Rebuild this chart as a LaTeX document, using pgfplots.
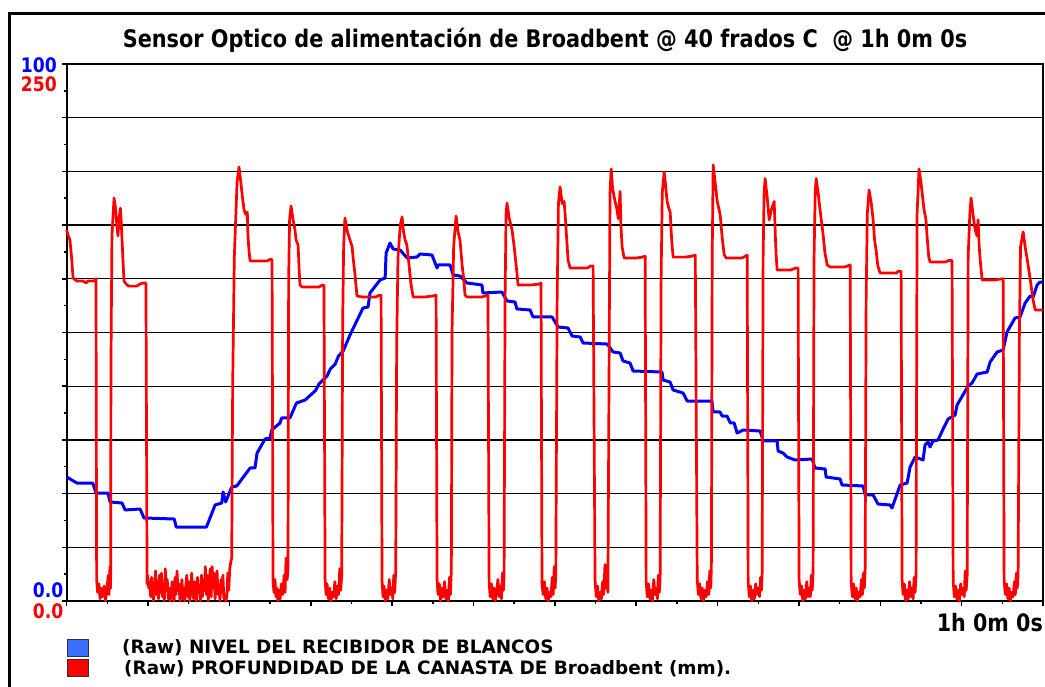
\documentclass[border=0pt]{standalone}
\usepackage{pgfplots}
\pgfplotsset{compat=1.18}
\usepackage{fontspec}
\setmainfont{DejaVu Sans}[FakeStretch=0.86]
\newfontfamily\legfont{DejaVu Sans}
\definecolor{lblue}{HTML}{0000FF}
\definecolor{lred}{HTML}{FF0000}
\definecolor{legblue}{HTML}{3A6EFF}
\pgfplotsset{myaxis/.style={scale only axis, width=976.3pt, height=537pt,
  at={(66.7pt,85pt)}, anchor=south west, xmin=0, xmax=60, clip=false}}
\begin{document}
\begin{tikzpicture}
\useasboundingbox (0,0) rectangle (1045pt,686pt);
% outer frame
\draw[line width=2.5pt,black] (9.5pt,-5pt) -- (9.5pt,672.5pt) -- (1060pt,672.5pt);
% axis with grid and blue series
\begin{axis}[myaxis, ymin=0, ymax=100,
  xtick={0,5,...,60}, ytick={0,10,...,100},
  minor x tick num=1, minor y tick num=1,
  xticklabels={}, yticklabels={},
  tick pos=left, tick align=outside,
  major tick length=5pt, minor tick length=3pt,
  tick style={black, line width=1.5pt},
  ymajorgrids, major grid style={black, line width=1.3pt},
  axis line style={black, line width=2.2pt}]
\addplot[lblue, line width=3pt, line join=round] coordinates {
(0,23.09)(0.20,22.72)(0.63,21.97)(1.60,21.97)(1.80,20.11)(2.54,20.11)(2.66,18.44)
(3.40,18.25)(3.59,16.95)(4.51,17.13)(4.75,15.46)(6.61,15.27)(6.73,13.78)(8.59,13.78)
(9.12,17.88)(9.53,18.25)(9.61,20.30)(9.77,18.44)(10.14,21.23)(10.45,21.42)
(11.27,24.77)(11.57,24.77)(11.70,27.56)(12.19,30.17)(12.50,30.35)(12.60,31.84)
(13.11,33.15)(13.21,34.08)(13.72,34.08)(14.12,36.87)(14.65,37.43)
(15.3,39.2)(15.5,40.4)(16.0,41.9)(16.2,43.2)(16.5,44.1)(16.7,45.6)(17.0,46.6)(17.41,49.53)
(18.21,54.56)(18.52,54.75)(18.64,57.36)(19.26,59.78)(19.57,60.15)(19.63,64.80)
(19.87,66.67)(20.06,65.55)(20.49,65.36)(20.92,63.87)(21.53,64.06)(21.72,64.62)
(22.45,64.43)(22.76,62.01)(22.82,62.57)(23.56,62.57)(23.75,60.71)(24.17,60.52)
(24.60,59.22)(25.52,58.85)(25.58,57.36)(26.75,57.54)(27.06,55.87)(27.55,55.68)
(27.67,54.38)(28.48,54.19)(28.66,52.89)(29.83,52.89)(30.20,51.02)(30.81,50.84)
(31.06,49.35)(31.55,49.16)(31.74,48.04)(33.21,47.86)(33.58,46.37)(34.01,46.18)
(34.19,44.69)(34.62,44.32)(34.81,42.83)(36.59,42.64)(36.65,41.15)(37.08,40.78)
(37.27,39.29)(37.88,38.73)(38.13,37.24)(39.66,37.24)(39.72,35.20)(40.15,35.20)
(40.28,34.45)(40.58,34.45)(40.78,33.15)(41.02,33.15)(41.20,31.28)(41.57,31.84)
(42.62,31.66)(42.80,29.80)(43.66,29.80)(43.72,27.93)(44.02,27.56)(44.27,26.82)
(44.76,26.26)(45.81,26.44)(45.99,24.77)(46.61,24.58)(46.67,23.09)(47.53,22.72)
(47.65,21.60)(48.94,21.42)(49.07,19.74)(49.56,19.74)(49.86,18.06)(50.60,17.88)
(50.72,17.32)(51.22,21.60)(51.65,21.97)(51.83,24.95)(52.14,26.82)(52.63,26.26)
(52.75,29.05)(52.94,29.61)(53.06,28.68)(53.24,29.80)(53.55,29.98)(53.86,32.03)
(54.17,33.89)(54.60,34.64)(54.72,36.50)(55.40,40.04)(55.64,40.60)(55.95,42.27)
(56.57,42.64)(56.75,44.51)(57.18,46.37)(57.55,46.74)(57.79,50.09)(58.28,52.70)
(58.59,52.89)(58.90,55.49)(59.21,56.80)(59.39,56.61)(59.64,58.85)(59.82,59.40)(60,59.40)
};
\end{axis}
% red series
\begin{axis}[myaxis, ymin=0, ymax=250, hide axis]
\addplot[lred, line width=2.7pt, line join=round] coordinates {
(0,172.7)(0.1,170)(0.2,168)(0.3,160)(0.39,150.4)(0.6,149)(1.0,149)(1.2,148)(1.3,149)(1.7,149)(1.8,150)
(1.84,10)(1.9,4)(1.98,8)(2.05,1)(2.12,6)(2.2,2)(2.3,7)(2.38,0)(2.46,4)(2.55,12)(2.6,3)(2.66,16)(2.70,6)
(2.72,110)(2.78,170)(2.91,187.6)(3.0,183)(3.08,175)(3.15,170)(3.22,178)(3.3,182.9)(3.36,175)(3.45,160)
(3.52,149)(3.65,147.6)(3.8,146.6)(4.3,146.6)(4.5,147.6)(4.7,148)(4.87,148)
(4.94,8)(4.98,12)(5.04,6)(5.1,9)(5.16,2)(5.22,11)(5.28,3)(5.34,0)(5.4,7)(5.46,14)(5.52,3)(5.58,9)
(5.64,1)(5.7,12)(5.76,4)(5.82,13)(5.88,2)(5.94,8)(6.0,0)(6.06,15)(6.12,5)(6.18,10)(6.24,1)(6.3,6)
(6.36,0)(6.42,4)(6.48,9)(6.54,2)(6.6,0)(6.66,11)(6.72,3)(6.78,14)(6.84,5)(6.9,8)(6.96,0)(7.02,3)
(7.08,10)(7.14,1)(7.2,6)(7.26,0)(7.32,7)(7.38,12)(7.44,2)(7.5,9)(7.56,0)(7.62,5)(7.68,13)(7.74,4)
(7.8,1)(7.86,9)(7.92,3)(7.98,0)(8.04,11)(8.1,4)(8.16,7)(8.22,0)(8.28,12)(8.34,2)(8.4,10)(8.46,5)
(8.52,16)(8.58,3)(8.64,12)(8.7,0)(8.76,8)(8.82,15)(8.88,2)(8.94,16)(9.0,6)(9.06,13)(9.12,1)(9.18,9)
(9.24,14)(9.3,3)(9.36,7)(9.42,0)(9.48,10)(9.54,4)(9.6,12)(9.66,1)(9.72,3)(9.78,0)(9.84,2)(9.9,13)
(9.96,5)(10.02,15)(10.08,18)(10.14,20)
(10.2,100)(10.3,160)(10.47,195)(10.59,202)(10.7,195)(10.8,188)(10.9,182)(11.0,180)(11.1,181)
(11.14,170)(11.2,163.4)(11.27,158.3)(11.6,158.3)(12.0,158.3)(12.3,158.3)(12.5,159)(12.62,159)
(12.68,9)(12.74,4)(12.8,10)(12.86,2)(12.92,6)(12.98,0)(13.05,5)(13.12,1)(13.2,8)(13.28,3)(13.36,12)
(13.42,4)(13.48,20)(13.55,10)(13.6,15)
(13.64,150)(13.7,178)(13.79,183.9)(13.9,178)(14.03,172.7)(14.1,168)(14.22,165.7)(14.28,155)
(14.34,147.1)(14.46,146.2)(15.0,146.2)(15.5,146.2)(15.7,147)(15.81,147)
(15.88,10)(15.94,3)(16.0,8)(16.08,1)(16.16,6)(16.24,0)(16.32,4)(16.4,2)(16.48,9)(16.56,1)(16.64,7)
(16.72,3)(16.78,15)(16.84,5)(16.9,12)
(16.96,130)(17.02,165)(17.1,178.3)(17.25,172)(17.41,168)(17.54,165)(17.6,160)(17.72,151.8)
(17.84,142)(18.2,141.5)(19.0,141.5)(19.2,142.4)(19.32,142.4)
(19.38,9)(19.44,2)(19.5,7)(19.58,0)(19.66,5)(19.74,1)(19.82,10)(19.9,3)(19.98,6)(20.04,1)(20.1,12)
(20.16,4)(20.22,14)
(20.28,120)(20.36,160)(20.5,175)(20.61,178.8)(20.7,172)(20.8,168)(20.9,166)(21.04,156.4)
(21.15,148)(21.29,141.5)(22.0,141.5)(22.5,142)(22.7,142.4)
(22.76,10)(22.82,3)(22.9,8)(22.98,0)(23.06,6)(23.14,2)(23.22,9)(23.3,1)(23.38,5)(23.46,0)(23.52,11)
(23.58,3)(23.64,15)
(23.68,125)(23.78,165)(23.93,179.2)(24.05,172)(24.17,168)(24.3,156.4)(24.4,150)(24.48,142.4)
(24.6,141.5)(25.5,141.5)(25.7,142)(25.89,142.4)
(25.96,9)(26.02,2)(26.1,8)(26.18,1)(26.26,6)(26.34,0)(26.42,4)(26.5,10)(26.58,2)(26.66,7)(26.72,1)
(26.78,13)(26.84,5)(26.88,12)
(26.94,140)(27.0,180)(27.06,185.3)(27.2,178)(27.37,172.7)(27.5,165)(27.62,156.4)(27.74,147.1)
(28.5,147.1)(29.0,147.5)(29.15,148)
(29.21,8)(29.28,3)(29.36,9)(29.44,1)(29.52,6)(29.6,0)(29.68,4)(29.76,2)(29.84,11)(29.9,3)(29.96,16)
(30.02,6)(30.06,14)
(30.14,140)(30.22,185)(30.32,192.8)(30.45,185)(30.57,186)(30.65,178)(30.81,158.7)(30.94,155)
(31.0,155)(32.0,155)(32.2,156)(32.35,156)
(32.47,10)(32.54,2)(32.62,7)(32.7,0)(32.78,4)(32.86,1)(32.94,9)(33.0,3)(33.08,17)(33.14,6)(33.2,11)
(33.26,4)
(33.39,190)(33.46,201.1)(33.55,192)(33.7,186)(33.8,183)(33.9,178)(34.01,190.7)(34.06,175)
(34.13,165)(34.26,159.7)(35.0,159.7)(35.3,160)(35.55,160.5)
(35.61,9)(35.68,2)(35.76,8)(35.84,1)(35.92,5)(36.0,0)(36.08,10)(36.16,3)(36.24,6)(36.3,1)(36.36,12)
(36.42,4)(36.47,10)
(36.53,150)(36.6,190)(36.72,199.7)(36.8,194)(36.9,186)(37.0,183)(37.09,181)(37.15,172)(37.21,165)
(37.27,160.1)(38.0,160.1)(38.4,160.5)(38.63,161)
(38.75,10)(38.82,3)(38.9,8)(38.98,1)(39.06,6)(39.14,0)(39.22,5)(39.3,2)(39.38,9)(39.46,3)(39.52,14)
(39.58,6)(39.62,16)
(39.67,160)(39.73,203)(39.85,195)(39.98,186)(40.1,182)(40.16,179.7)(40.3,168)(40.41,161.1)
(40.53,159.7)(41.5,159.7)(41.7,160.5)(41.82,161)
(41.88,9)(41.95,2)(42.02,7)(42.1,0)(42.18,5)(42.26,1)(42.34,8)(42.42,3)(42.5,6)(42.58,2)(42.64,11)
(42.7,5)(42.74,13)
(42.8,160)(42.86,190)(42.92,196.7)(43.05,188)(43.17,177.4)(43.3,182)(43.48,186)(43.55,170)
(43.6,161.1)(43.66,154.1)(44.5,154.1)(44.8,155)(44.95,155)
(45.01,10)(45.08,3)(45.16,7)(45.24,0)(45.32,5)(45.4,1)(45.48,9)(45.56,2)(45.64,6)(45.7,2)(45.76,12)
(45.82,5)(45.87,14)
(45.93,160)(46.0,190)(46.06,196.7)(46.18,190)(46.3,182)(46.49,170.4)(46.6,162)(46.74,156.4)
(46.92,155.5)(47.8,155.5)(48.0,156)(48.15,156.5)
(48.21,9)(48.28,2)(48.36,8)(48.44,1)(48.52,6)(48.6,0)(48.68,4)(48.76,2)(48.84,10)(48.9,3)(48.96,13)
(49.02,6)(49.07,15)
(49.13,140)(49.2,180)(49.31,191.3)(49.45,185)(49.56,177.4)(49.65,168)(49.74,163.4)(49.85,156)
(49.99,152.7)(51.0,152.7)(51.1,153.5)(51.28,153.5)
(51.34,10)(51.4,3)(51.48,8)(51.56,0)(51.64,5)(51.72,1)(51.8,9)(51.88,2)(51.96,6)(52.02,1)(52.08,11)
(52.14,4)(52.2,12)
(52.26,180)(52.38,201.1)(52.5,195)(52.69,182)(52.8,178)(52.87,170.4)(52.98,160)(53.06,157.8)
(53.18,157.8)(54.0,157.8)(54.2,158.5)(54.41,158.5)
(54.48,9)(54.55,2)(54.62,7)(54.7,1)(54.78,5)(54.86,0)(54.94,8)(55.02,3)(55.1,6)(55.16,2)(55.22,14)
(55.28,5)(55.34,12)
(55.4,160)(55.5,180)(55.58,187.6)(55.7,180)(55.83,172.7)(55.95,170)(56.01,177.4)(56.08,165)
(56.14,158.7)(56.26,149.4)(57.0,149.4)(57.3,149.8)(57.55,150)
(57.61,10)(57.68,3)(57.76,8)(57.84,1)(57.92,6)(58.0,0)(58.08,4)(58.16,2)(58.24,9)(58.3,3)(58.36,13)
(58.42,6)(58.47,12)
(58.55,125)(58.62,165)(58.78,171.8)(58.9,165)(59.03,159)(59.21,150)(59.39,140.1)(59.52,135.5)(60,135.5)
};
\end{axis}
% labels
\node[anchor=base, font=\bfseries\fontsize{24.2}{27}\selectfont] at (545pt,638pt)
  {Sensor Optico de alimentación de Broadbent @ 40 frados C\ \ @ 1h 0m 0s};
\node[anchor=base east, lblue, font=\bfseries\fontsize{20}{22}\selectfont, inner sep=0pt] at (57pt,613pt) {100};
\node[anchor=base east, lred, font=\bfseries\fontsize{20}{22}\selectfont, inner sep=0pt] at (57pt,594pt) {250};
\node[anchor=base east, lblue, font=\bfseries\fontsize{20}{22}\selectfont, inner sep=0pt] at (63.5pt,88pt) {0.0};
\node[anchor=base east, lred, font=\bfseries\fontsize{20}{22}\selectfont, inner sep=0pt] at (63.5pt,67pt) {0.0};
\node[anchor=base east, font=\bfseries\fontsize{24}{26}\selectfont, inner sep=0pt] at (1043pt,54pt) {1h 0m 0s};
\filldraw[fill=legblue, draw=black!80, line width=0.8pt] (67pt,30pt) rectangle (88pt,47pt);
\filldraw[fill=lred, draw=black!80, line width=0.8pt] (67pt,10pt) rectangle (88pt,27pt);
\node[anchor=base west, font=\legfont\bfseries\fontsize{18.4}{20}\selectfont, inner sep=0pt] at (122pt,33pt)
  {(Raw) NIVEL DEL RECIBIDOR DE BLANCOS};
\node[anchor=base west, font=\legfont\bfseries\fontsize{18.4}{20}\selectfont, inner sep=0pt] at (124pt,12pt)
  {(Raw) PROFUNDIDAD DE LA CANASTA DE Broadbent (mm).};
\end{tikzpicture}
\end{document}
